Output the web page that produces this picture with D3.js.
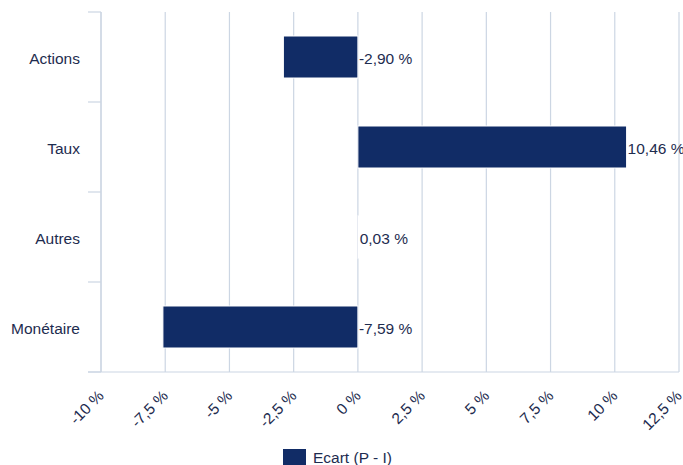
<!DOCTYPE html>
<html><head><meta charset="utf-8">
<script src="https://cdn.jsdelivr.net/npm/d3@7"></script>
<style>body{margin:0;background:#fff;}svg{display:block;font-family:"Liberation Sans",Arial,sans-serif;}</style>
</head><body><svg id="c" width="683" height="465"></svg>
<script>
const categories = ["Actions","Taux","Autres","Monétaire"];
const values = [-2.90, 10.46, 0.03, -7.59];
const tickValues = [-10,-7.5,-5,-2.5,0,2.5,5,7.5,10,12.5];
const seriesName = "Ecart (P - I)";

const svg = d3.select("#c");
const pL = 101, pR = 679, pT = 12, pB = 372;
const barColor = "#112c66", gridColor = "#ccd6e3", textColor = "#1e2c4f";
const fs = 15.5;
const fmt = v => (v.toFixed(2).replace(".", ",")) + " %";
const tfmt = v => String(v).replace(".", ",") + " %";

const x = d3.scaleLinear().domain([-10,12.5]).range([pL,pR]);
const y = d3.scaleBand().domain(categories).range([pT,pB]).paddingInner(0.5333).paddingOuter(0.2667);

// gridlines
svg.append("g").selectAll("line").data(tickValues).join("line")
  .attr("x1", d=>x(d)).attr("x2", d=>x(d)).attr("y1", pT).attr("y2", pB)
  .attr("stroke", gridColor).attr("stroke-width", 1.2);

// y axis line + ticks
svg.append("line").attr("x1", pL).attr("x2", pL).attr("y1", pT).attr("y2", pB)
  .attr("stroke", gridColor).attr("stroke-width", 1.2);
const bandEdges = d3.range(categories.length+1).map(i => pT + i*(pB-pT)/categories.length);
svg.append("g").selectAll("line").data(bandEdges).join("line")
  .attr("x1", 88).attr("x2", pL).attr("y1", d=>d).attr("y2", d=>d)
  .attr("stroke", gridColor).attr("stroke-width", 1.2);
// x axis baseline
svg.append("line").attr("x1", 88).attr("x2", pR).attr("y1", pB).attr("y2", pB)
  .attr("stroke", gridColor).attr("stroke-width", 1.2);

// category labels
svg.append("g").selectAll("text").data(categories).join("text")
  .attr("x", 80).attr("y", d=>y(d)+y.bandwidth()/2+2).attr("dy","0.35em")
  .attr("text-anchor","end").attr("font-size",fs).attr("fill",textColor).text(d=>d);

// bars
svg.append("g").selectAll("rect").data(values).join("rect")
  .attr("x", d=>x(Math.min(0,d))).attr("width", d=>Math.abs(x(d)-x(0)))
  .attr("y", (d,i)=>y(categories[i])).attr("height", y.bandwidth())
  .attr("fill", barColor).attr("stroke","#fff").attr("stroke-width",1);

// value labels
svg.append("g").selectAll("text").data(values).join("text")
  .attr("x", d=>x(Math.max(0,d))+1).attr("y", (d,i)=>y(categories[i])+y.bandwidth()/2+2).attr("dy","0.35em")
  .attr("font-size",fs).attr("fill",textColor).text(d=>fmt(d));

// x tick labels
svg.append("g").selectAll("text").data(tickValues).join("text")
  .attr("transform", d=>`translate(${x(d)},${pB+21}) rotate(-45)`)
  .attr("text-anchor","end").attr("dy","0.35em")
  .attr("font-size",fs).attr("fill",textColor).text(d=>tfmt(d));

// legend
svg.append("rect").attr("x",283).attr("y",449).attr("width",23).attr("height",16).attr("fill",barColor);
svg.append("text").attr("x",313).attr("y",458).attr("dy","0.35em").attr("font-size",fs).attr("fill",textColor).text(seriesName);
</script></body></html>
